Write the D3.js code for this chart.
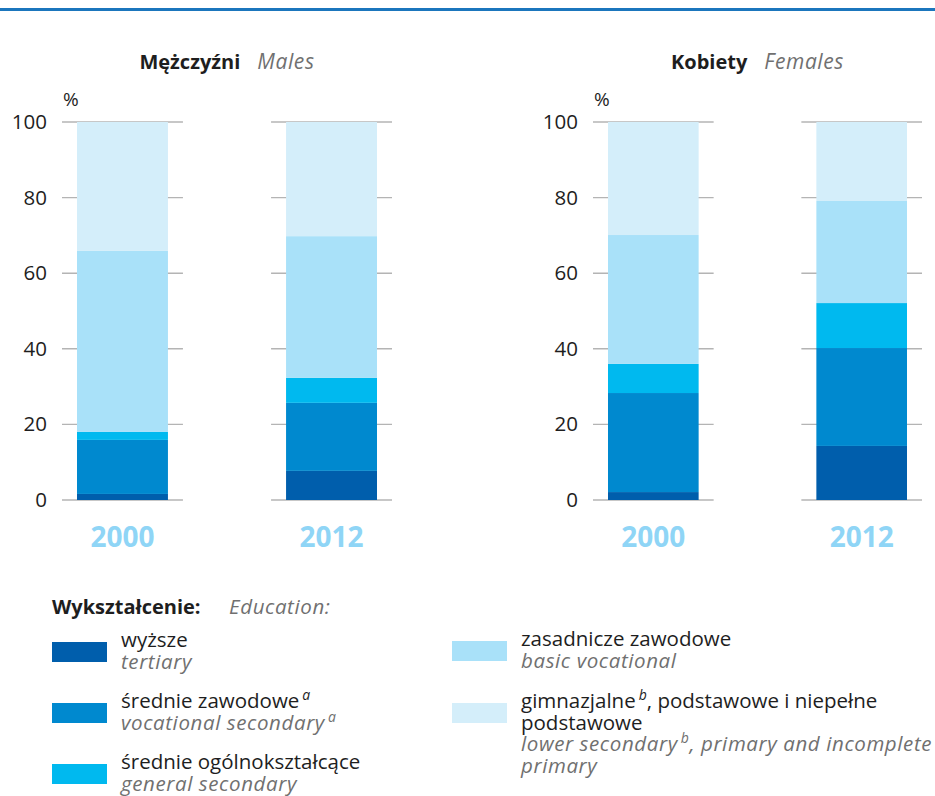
<!DOCTYPE html>
<html>
<head>
<meta charset="utf-8">
<title>Wykształcenie</title>
<script src="https://cdn.jsdelivr.net/npm/d3@7/dist/d3.min.js"></script>
<style>
	body { margin: 0; background: #fff; }
	svg { display: block; font-family: "Open Sans", "Noto Sans", sans-serif; }
	.pl { fill: #1e1e1e; }
	.en { fill: #707070; font-style: italic; letter-spacing: 0.6px; }
</style>
</head>
<body>
<div id="chart"></div>
<script>
// data (percent of population)
var years = ["2000", "2012"];
var levels = ["tertiary", "vocSec", "genSec", "basicVoc", "lower"];
var males2000 = [1.6, 14.3, 2.1, 47.9, 34.1];
var males2012 = [7.7, 18.0, 6.6, 37.5, 30.2];
var females2000 = [2.1, 26.2, 7.7, 34.1, 29.9];
var females2012 = [14.3, 25.9, 11.9, 27.0, 20.9];
var yTicks = [0, 20, 40, 60, 80, 100];
var colors = ["#005eac", "#0089cf", "#00b9ef", "#a9e1f9", "#d4eefa"];

var width = 935, height = 796;

var svg = d3.select("#chart").append("svg")
	.attr("width", width)
	.attr("height", height);

// top rule
svg.append("rect")
	.attr("x", 0).attr("y", 8)
	.attr("width", width).attr("height", 3)
	.attr("fill", "#1b76bd");

var y = d3.scaleLinear().domain([0, 100]).range([500, 122]);

function rows(a, b) {
	return [a, b].map(function(v, i) {
		var r = { year: years[i] };
		levels.forEach(function(k, j) { r[k] = v[j]; });
		return r;
	});
}

var stack = d3.stack().keys(levels);

function panel(opt) {
	var x = d3.scaleBand().domain(years).range(opt.range).paddingInner(0.565).paddingOuter(0);
	var g = svg.append("g");

	// gridlines, one short segment per bar
	years.forEach(function(yr) {
		g.selectAll(null).data(yTicks).enter().append("line")
			.attr("x1", x(yr) - 15)
			.attr("x2", x(yr) + x.bandwidth() + 15)
			.attr("y1", function(d) { return y(d); })
			.attr("y2", function(d) { return y(d); })
			.attr("stroke", "#b4b4b4")
			.attr("stroke-width", 1.4);
	});

	var series = stack(rows(opt.a, opt.b));
	g.selectAll("g.layer").data(series).enter().append("g")
		.attr("class", "layer")
		.attr("fill", function(d, i) { return colors[i]; })
		.selectAll("rect").data(function(d) { return d; }).enter().append("rect")
		.attr("x", function(d) { return x(d.data.year); })
		.attr("width", x.bandwidth())
		.attr("y", function(d) { return y(d[1]); })
		.attr("height", function(d) { return y(d[0]) - y(d[1]); });

	// y labels
	var axis = g.append("g")
		.attr("transform", "translate(" + (x(years[0]) - 15) + ",0)")
		.call(d3.axisLeft(y).tickValues(yTicks).tickSize(0).tickPadding(15));
	axis.select(".domain").remove();
	axis.selectAll("text")
		.attr("font-family", "Open Sans, sans-serif")
		.attr("font-size", 20.5)
		.attr("fill", "#1e1e1e");

	g.append("text")
		.attr("x", x(years[0]) - 14)
		.attr("y", 106)
		.attr("class", "pl")
		.attr("font-size", 19)
		.text("%");

	// year labels
	g.selectAll("text.year").data(years).enter().append("text")
		.attr("class", "year")
		.attr("x", function(d) { return x(d) + x.bandwidth() / 2; })
		.attr("y", 547)
		.attr("text-anchor", "middle")
		.attr("font-size", 28)
		.attr("font-weight", "bold")
		.attr("fill", "#8fd5f6")
		.text(function(d) { return d; });

	// title
	var cx = (opt.range[0] + opt.range[1]) / 2;
	var t = g.append("text")
		.attr("x", cx).attr("y", 69)
		.attr("text-anchor", "middle")
		.attr("font-size", 20);
	t.append("tspan").attr("class", "pl").attr("font-weight", "bold").text(opt.pl);
	t.append("tspan").attr("class", "en").attr("dx", 17).attr("font-size", 21).text(opt.en);
}

panel({ range: [77, 377], a: males2000, b: males2012, pl: "Mężczyźni", en: "Males" });
panel({ range: [608, 907], a: females2000, b: females2012, pl: "Kobiety", en: "Females" });

// legend
var lg = svg.append("g").attr("font-size", 20.5);
var head = lg.append("text").attr("x", 52).attr("y", 614);
head.append("tspan").attr("class", "pl").attr("font-weight", "bold").attr("font-size", 20).text("Wykształcenie:");
head.append("tspan").attr("class", "en").attr("x", 229).attr("font-size", 20.5).text("Education:");

// each entry: colour index, swatch position, text lines [pl/en, text, superscript, rest]
var legendItems = [
	{ c: 0, x: 52, y: 642, lines: [["pl", "wyższe"], ["en", "tertiary"]] },
	{ c: 1, x: 52, y: 703, lines: [["pl", "średnie zawodowe", "a"], ["en", "vocational secondary", "a"]] },
	{ c: 2, x: 52, y: 764, lines: [["pl", "średnie ogólnokształcące"], ["en", "general secondary"]] },
	{ c: 3, x: 452, y: 641, lines: [["pl", "zasadnicze zawodowe"], ["en", "basic vocational"]] },
	{ c: 4, x: 452, y: 703, lines: [["pl", "gimnazjalne", "b", ", podstawowe i niepełne"], ["pl", "podstawowe"],
		["en", "lower secondary", "b", ", primary and incomplete"], ["en", "primary"]] }
];

legendItems.forEach(function(it) {
	lg.append("rect")
		.attr("x", it.x).attr("y", it.y)
		.attr("width", 55).attr("height", 20)
		.attr("fill", colors[it.c]);
	it.lines.forEach(function(ln, i) {
		var t = lg.append("text")
			.attr("class", ln[0])
			.attr("x", it.x + 69)
			.attr("y", it.y + 5 + i * 21.5);
		t.append("tspan").text(ln[1]);
		if (ln[2]) {
			t.append("tspan").attr("dy", -8).attr("dx", 3).attr("font-size", 14)
				.attr("font-style", "italic").text(ln[2]);
			if (ln[3]) t.append("tspan").attr("dy", 8).text(ln[3]);
		}
	});
});
</script>
</body>
</html>
